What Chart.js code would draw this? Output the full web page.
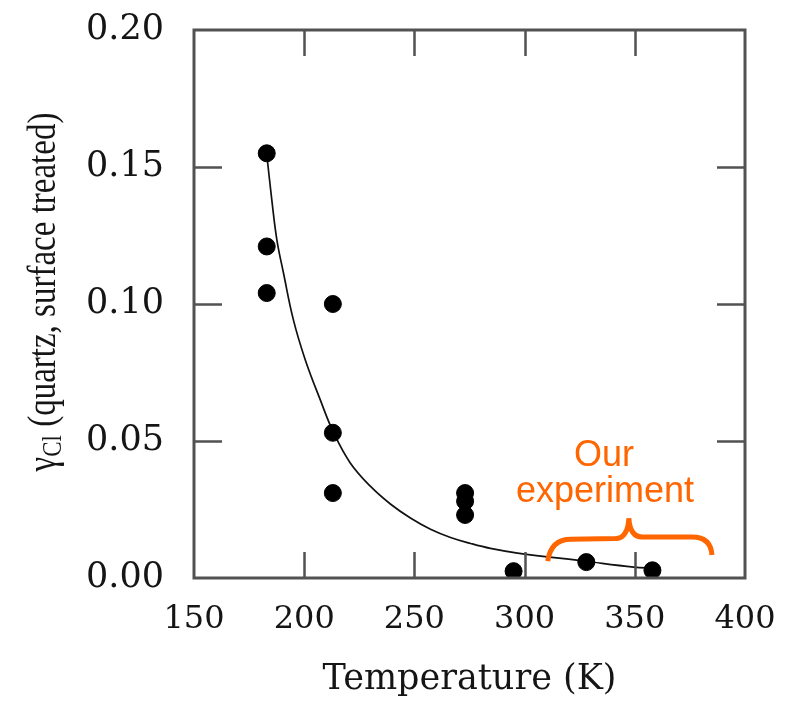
<!DOCTYPE html>
<html>
<head>
<meta charset="utf-8">
<script src="https://cdn.jsdelivr.net/npm/chart.js@4.4.1/dist/chart.umd.min.js"></script>
<style>
  html, body { margin: 0; padding: 0; background: #fff; }
  #wrap { width: 790px; height: 703px; }
</style>
</head>
<body>
<div id="wrap"><canvas id="plot" width="790" height="703"></canvas></div>
<script>
// measured uptake coefficients (temperature in K, gamma)
const tempK = [183, 183, 183, 213, 213, 213, 273, 273, 273, 295, 328, 358];
const gammaCl = [0.155, 0.121, 0.104, 0.100, 0.053, 0.031, 0.031, 0.028, 0.023, 0.0025, 0.0058, 0.0028];

// fitted curve, read along its length
const fitK = [183, 185.3, 187.6, 190.6, 195.1, 200.5, 207.3, 213.2, 220.9, 230, 239.1, 248.2, 257.3, 266.4, 275.5, 284.5, 296.8, 326.8, 349.5, 358.6];
const fitGamma = [0.1547, 0.138, 0.1234, 0.1113, 0.0942, 0.0796, 0.065, 0.0533, 0.042, 0.0335, 0.027, 0.0219, 0.0178, 0.0148, 0.0126, 0.0108, 0.0091, 0.0062, 0.004, 0.0036];

const xTicks = [150, 200, 250, 300, 350, 400];
const yTicks = [0, 0.05, 0.10, 0.15, 0.20];

// temperature span covered by our own runs
const ourRange = [311, 385];

const ORANGE = '#ff6600';
const FRAME = '#525252';
const INK = '#151515';

// box around the plot plus inward tick marks on all four sides
const framePlugin = {
  id: 'frame',
  afterDatasetsDraw(chart) {
    const { ctx, chartArea: a, scales } = chart;
    ctx.save();
    ctx.strokeStyle = FRAME;
    ctx.lineWidth = 2.5;
    const len = 26;
    xTicks.slice(1, -1).forEach(v => {
      const px = Math.round(scales.x.getPixelForValue(v)) + 0.5;
      ctx.beginPath();
      ctx.moveTo(px, a.bottom); ctx.lineTo(px, a.bottom - len);
      ctx.moveTo(px, a.top); ctx.lineTo(px, a.top + len);
      ctx.stroke();
    });
    yTicks.slice(1, -1).forEach(v => {
      const py = Math.round(scales.y.getPixelForValue(v)) + 0.5;
      ctx.beginPath();
      ctx.moveTo(a.left, py); ctx.lineTo(a.left + len + 2, py);
      ctx.moveTo(a.right, py); ctx.lineTo(a.right - len - 2, py);
      ctx.stroke();
    });
    ctx.lineWidth = 3;
    ctx.strokeRect(a.left, a.top, a.right - a.left, a.bottom - a.top);
    ctx.restore();
  }
};

// y axis title with the Cl subscript
const yTitlePlugin = {
  id: 'yTitle',
  afterDraw(chart) {
    const { ctx, chartArea: a } = chart;
    const parts = [
      { t: '\u03b3', f: '33px "Liberation Serif"', dy: 0 },
      { t: 'Cl', f: '23px "Liberation Serif"', dy: 7 },
      { t: ' (quartz, surface treated)', f: '33px "Liberation Serif"', dy: 0 }
    ];
    ctx.save();
    let total = 0;
    parts.forEach(p => { ctx.font = p.f; p.w = ctx.measureText(p.t).width; total += p.w; });
    ctx.translate(45, (a.top + a.bottom) / 2 - 12);
    ctx.rotate(-Math.PI / 2);
    ctx.scale(1, 1.2);
    ctx.fillStyle = INK;
    ctx.textBaseline = 'middle';
    let x = -total / 2;
    parts.forEach(p => {
      ctx.font = p.f;
      ctx.fillText(p.t, x, p.dy);
      x += p.w;
    });
    ctx.restore();
  }
};

// orange brace and note over our temperature range
const notePlugin = {
  id: 'note',
  afterDraw(chart) {
    const { ctx, scales } = chart;
    const X = v => scales.x.getPixelForValue(v);
    const Y = v => scales.y.getPixelForValue(v);
    const [lo, hi] = ourRange;
    const mid = 347.3;
    ctx.save();
    ctx.strokeStyle = ORANGE;
    ctx.lineWidth = 5;
    ctx.beginPath();
    ctx.moveTo(X(lo - 0.5), Y(0.0062));
    ctx.quadraticCurveTo(X(lo + 1), Y(0.0141), X(lo + 10), Y(0.0141));
    ctx.lineTo(X(mid - 6), Y(0.0144));
    ctx.quadraticCurveTo(X(mid - 0.5), Y(0.0146), X(mid), Y(0.0218));
    ctx.quadraticCurveTo(X(mid + 0.5), Y(0.0150), X(mid + 6), Y(0.0150));
    ctx.lineTo(X(hi - 9), Y(0.0150));
    ctx.quadraticCurveTo(X(hi - 0.5), Y(0.0150), X(hi), Y(0.0084));
    ctx.stroke();
    ctx.fillStyle = ORANGE;
    ctx.font = '36px "Liberation Sans"';
    ctx.textAlign = 'center';
    ctx.textBaseline = 'middle';
    ctx.fillText('Our', X(336), Y(0.0446));
    ctx.fillText('experiment', X(336.5), Y(0.0315));
    ctx.restore();
  }
};

new Chart(document.getElementById('plot'), {
  type: 'scatter',
  data: {
    datasets: [
      {
        data: tempK.map((t, i) => ({ x: t, y: gammaCl[i] })),
        backgroundColor: '#000',
        borderColor: '#000',
        pointRadius: 8.5,
        pointHoverRadius: 8.5
      },
      {
        data: fitK.map((t, i) => ({ x: t, y: fitGamma[i] })),
        showLine: true,
        borderColor: '#111',
        borderWidth: 1.7,
        pointRadius: 0,
        tension: 0.4
      }
    ]
  },
  options: {
    responsive: false,
    animation: false,
    layout: { padding: { top: 30, right: 45, left: 0, bottom: 0 } },
    plugins: { legend: { display: false }, tooltip: { enabled: false } },
    scales: {
      x: {
        type: 'linear',
        min: 150, max: 400,
        afterFit(scale) {
          scale.height = 125;
          scale.paddingLeft = 0;
          scale.paddingRight = 0;
        },
        afterBuildTicks(scale) { scale.ticks = xTicks.map(v => ({ value: v })); },
        grid: { display: false, drawTicks: false },
        border: { display: false },
        ticks: {
          padding: 22,
          color: INK,
          font: { family: 'DejaVu Serif', size: 32 }
        },
        title: {
          display: true,
          text: 'Temperature (K)',
          color: INK,
          padding: { top: 0, bottom: 2 },
          font: { family: 'DejaVu Serif', size: 35 }
        }
      },
      y: {
        type: 'linear',
        min: 0, max: 0.2,
        afterFit(scale) {
          scale.width = 194;
          scale.paddingTop = 0;
          scale.paddingBottom = 0;
        },
        afterBuildTicks(scale) { scale.ticks = yTicks.map(v => ({ value: v })); },
        grid: { display: false, drawTicks: false },
        border: { display: false },
        ticks: {
          padding: 30,
          color: INK,
          font: { family: 'DejaVu Serif', size: 35 },
          callback: v => v.toFixed(2)
        }
      }
    }
  },
  plugins: [framePlugin, yTitlePlugin, notePlugin]
});
</script>
</body>
</html>
